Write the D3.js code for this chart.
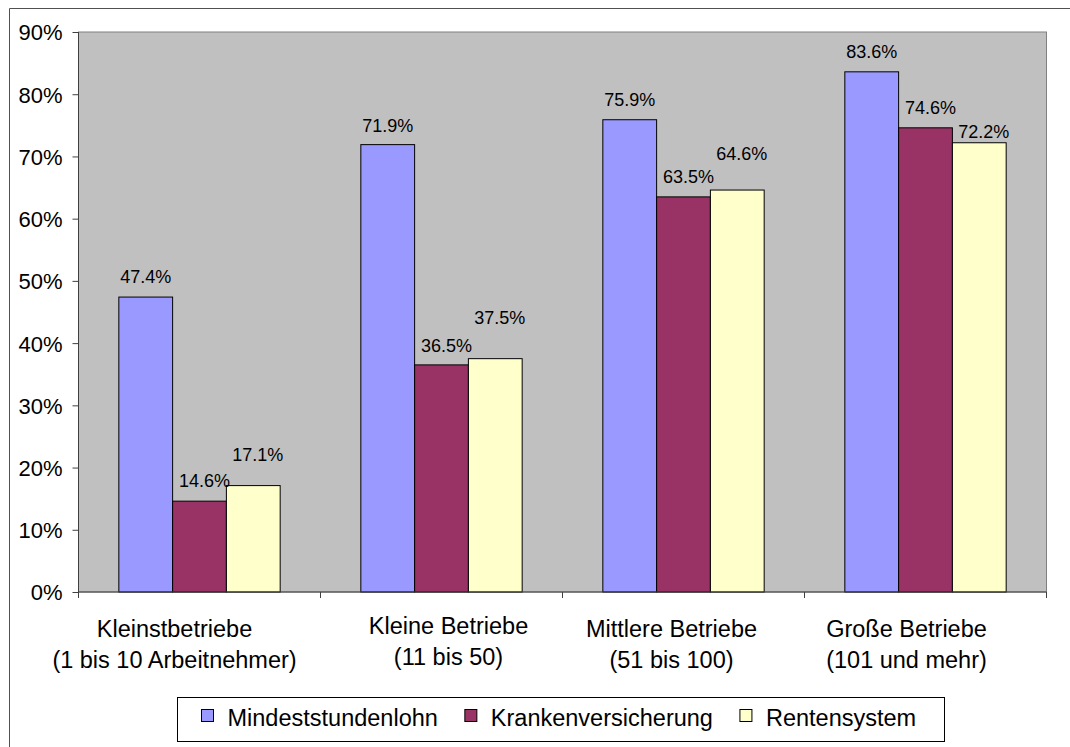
<!DOCTYPE html>
<html>
<head>
<meta charset="utf-8">
<script src="https://cdn.jsdelivr.net/npm/d3@7"></script>
<style>
  html, body { margin: 0; padding: 0; background: #ffffff; }
  svg { display: block; font-family: "Liberation Sans", Arial, sans-serif; }
</style>
</head>
<body>
<svg id="chart" width="1070" height="747"></svg>
<script>
// Firm size classes (two-line labels)
const categories = [
  ["Kleinstbetriebe", "(1 bis 10 Arbeitnehmer)"],
  ["Kleine Betriebe", "(11 bis 50)"],
  ["Mittlere Betriebe", "(51 bis 100)"],
  ["Große Betriebe", "(101 und mehr)"]
];
const seriesNames = ["Mindeststundenlohn", "Krankenversicherung", "Rentensystem"];

// Share of firms (%) per series, one value per size class
const mindeststundenlohn = [47.4, 71.9, 75.9, 83.6];
const krankenversicherung = [14.6, 36.5, 63.5, 74.6];
const rentensystem = [17.1, 37.5, 64.6, 72.2];

const yTicks = [0, 10, 20, 30, 40, 50, 60, 70, 80, 90];

// Presentation
const colors = ["#9999ff", "#993366", "#ffffcc"];
const labelShiftX = [0, 5, 4.5];                       // per series
const labelLift = [[13.7, 14.5, 24.6], [12.7, 12.7, 35], [13.3, 13.4, 30], [13.7, 14, 5]];
const catShiftX = [-25, 7, -12, -19];
const catLift = [0, 3, 0, 0];

const values = [mindeststundenlohn, krankenversicherung, rentensystem];
const svg = d3.select("#chart");

const plot = { left: 78.5, right: 1046.5, top: 32, bottom: 592 };

const x = d3.scaleBand()
  .domain(d3.range(categories.length))
  .range([plot.left, plot.right])
  .padding(0);
const xs = d3.scaleBand()
  .domain(d3.range(seriesNames.length))
  .range([0, x.bandwidth()])
  .paddingInner(0)
  .paddingOuter(0.75);
const y = d3.scaleLinear().domain([0, 90]).range([plot.bottom, plot.top]);

// Outer chart frame
svg.append("path")
  .attr("d", "M9.5,747 V8.5 H1070")
  .attr("fill", "none")
  .attr("stroke", "#505050")
  .attr("stroke-width", 1);

// Plot background
svg.append("rect")
  .attr("x", plot.left).attr("y", plot.top)
  .attr("width", plot.right - plot.left).attr("height", plot.bottom - plot.top)
  .attr("fill", "#c0c0c0")
  .attr("stroke", "#808080")
  .attr("stroke-width", 1);

// Bars
const groups = svg.append("g").selectAll("g")
  .data(categories.map((c, i) => i))
  .join("g")
  .attr("transform", i => `translate(${x(i)},0)`);

groups.selectAll("rect")
  .data(i => values.map((s, k) => ({ i, k, v: s[i] })))
  .join("rect")
  .attr("x", d => xs(d.k))
  .attr("y", d => y(d.v))
  .attr("width", xs.bandwidth())
  .attr("height", d => y(0) - y(d.v))
  .attr("fill", d => colors[d.k])
  .attr("stroke", "#000000")
  .attr("stroke-width", 1);

// Value labels
groups.selectAll("text.val")
  .data(i => values.map((s, k) => ({ i, k, v: s[i] })))
  .join("text")
  .attr("class", "val")
  .attr("x", d => xs(d.k) + xs.bandwidth() / 2 + labelShiftX[d.k])
  .attr("y", d => y(d.v) - labelLift[d.i][d.k])
  .attr("text-anchor", "middle")
  .attr("font-size", 18)
  .attr("fill", "#000")
  .text(d => d.v.toFixed(1) + "%");

// Y axis
const yAxis = d3.axisLeft(y)
  .tickValues(yTicks)
  .tickSize(6)
  .tickPadding(10)
  .tickFormat(d => d + "%");
const ya = svg.append("g")
  .attr("transform", `translate(${plot.left},0)`)
  .call(yAxis);
ya.select(".domain").attr("stroke", "#404040").attr("d", `M0,${plot.top}V${plot.bottom}`);
ya.selectAll(".tick line").attr("stroke", "#404040");
ya.selectAll(".tick text")
  .attr("font-size", 22)
  .attr("font-family", "Liberation Sans, Arial, sans-serif")
  .attr("fill", "#000")
  .attr("dy", "0.36em");

// X axis line with separators between size classes
const xa = svg.append("g");
xa.append("line")
  .attr("x1", plot.left).attr("x2", plot.right)
  .attr("y1", plot.bottom).attr("y2", plot.bottom)
  .attr("stroke", "#404040");
xa.selectAll("line.sep")
  .data(d3.range(categories.length + 1))
  .join("line")
  .attr("class", "sep")
  .attr("x1", i => plot.left + i * x.step()).attr("x2", i => plot.left + i * x.step())
  .attr("y1", plot.bottom).attr("y2", plot.bottom + 6)
  .attr("stroke", "#404040");

// Category labels
const cat = svg.append("g").selectAll("text")
  .data(categories.map((c, i) => ({ c, i })))
  .join("text")
  .attr("text-anchor", "middle")
  .attr("font-size", 23.5)
  .attr("fill", "#000")
  .attr("transform", d => `translate(${x(d.i) + x.bandwidth() / 2 + catShiftX[d.i]},${636.5 - catLift[d.i]})`);
cat.selectAll("tspan")
  .data(d => d.c)
  .join("tspan")
  .attr("x", 0)
  .attr("y", (d, j) => j * 31.5)
  .text(d => d);

// Legend
const legend = svg.append("g");
legend.append("rect")
  .attr("x", 177.5).attr("y", 697.5)
  .attr("width", 767).attr("height", 44)
  .attr("fill", "#ffffff")
  .attr("stroke", "#000000");
let lx = 201.5;
seriesNames.forEach((name, k) => {
  legend.append("rect")
    .attr("x", lx).attr("y", 709.5)
    .attr("width", 12).attr("height", 12)
    .attr("fill", colors[k])
    .attr("stroke", "#000000");
  const t = legend.append("text")
    .attr("x", lx + 26).attr("y", 726)
    .attr("font-size", 23.5)
    .attr("fill", "#000")
    .text(name);
  lx = lx + 26 + t.node().getComputedTextLength() + 27;
});
</script>
</body>
</html>
